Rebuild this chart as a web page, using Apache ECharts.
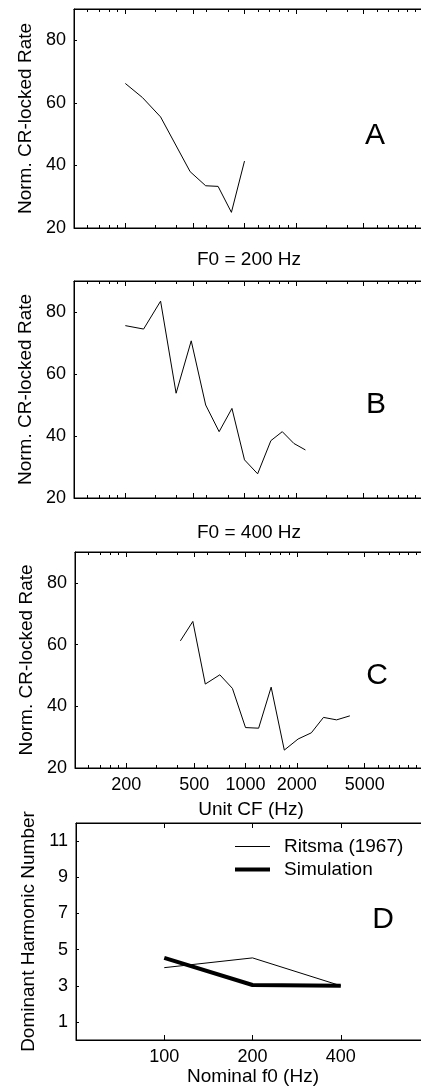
<!DOCTYPE html>
<html>
<head>
<meta charset="utf-8">
<script src="https://cdn.jsdelivr.net/npm/echarts@6/dist/echarts.min.js"></script>
<style>
  html, body { margin: 0; padding: 0; background: #fff; }
  #main { width: 421px; height: 1091px; }
</style>
</head>
<body>
<div id="main"></div>
<script>
// panel A: F0 = 100 Hz
var cfA = [200, 252, 322, 480, 592, 700, 838, 1000];
var rateA = [66.2, 61.7, 55.5, 38.0, 33.5, 33.3, 25.0, 41.4];
// panel B: F0 = 200 Hz
var cfB = [200, 256, 322, 397, 487, 592, 710, 844, 1000, 1194, 1428, 1666, 1948, 2277];
var rateB = [75.6, 74.5, 83.5, 53.8, 70.7, 50.0, 41.4, 48.9, 32.3, 27.8, 38.5, 41.4, 37.6, 35.5];
// panel C: F0 = 400 Hz
var cfC = [415, 491, 581, 707, 838, 1000, 1194, 1414, 1689, 2035, 2433, 2867, 3422, 4093];
var rateC = [61.2, 67.5, 47.2, 50.2, 45.8, 33.1, 32.9, 46.2, 25.8, 29.4, 31.4, 36.4, 35.6, 36.9];
// panel D
var f0 = [100, 200, 400];
var ritsma = [4.0, 4.54, 3.0];
var simulation = [4.54, 3.04, 3.0];

var cfMajor = [200, 500, 1000, 2000, 5000];
var cfMinor = [120, 140, 160, 180, 300, 400, 600, 800, 1200, 1400, 1600, 1800, 3000, 4000, 6000, 7000, 8000, 9000, 10000];
var rateTicks = [20, 40, 60, 80];
var f0Ticks = [100, 200, 400];
var harmTicks = [1, 3, 5, 7, 9, 11];

var FONT = 'Liberation Sans, Arial, sans-serif';
var lg = function (a) { return a.map(function (v) { return Math.log10(v); }); };
var pairs = function (xs, ys) { return xs.map(function (x, i) { return [Math.log10(x), ys[i]]; }); };

// plot boxes run past the right edge of the page, as in the original scan
var GW = 380;
var cfMax = 2 + GW / 170.5;            // 170.5 px per decade
var f0Min = Math.log10(50);
var f0Max = f0Min + GW / 293.2;        // 293.2 px per decade

var grids = [
  { left: 74, top: 9, width: GW, height: 219 },
  { left: 74, top: 281, width: GW, height: 217 },
  { left: 75, top: 552, width: GW, height: 216 },
  { left: 76, top: 823, width: GW, height: 217 }
];
grids.forEach(function (g) {
  g.show = true; g.borderColor = '#000'; g.borderWidth = 1;
  g.backgroundColor = 'transparent'; g.outerBoundsMode = 'none';
});

var xAxes = [], yAxes = [], series = [];

function xAx(gi, pos, min, max, ticks, len, withLine, labels, name, gap, shift) {
  return {
    gridIndex: gi, type: 'value', position: pos, min: min, max: max,
    axisLine: { show: withLine, lineStyle: { color: '#000', width: 1 } },
    axisTick: { show: true, inside: true, length: len, customValues: lg(ticks), lineStyle: { color: '#000' } },
    axisLabel: {
      show: !!labels, customValues: lg(ticks), margin: 8, color: '#000', fontSize: 18, fontFamily: FONT,
      formatter: function (v) { return String(Math.round(Math.pow(10, v))); }
    },
    splitLine: { show: false },
    name: name || '', nameLocation: 'middle', nameGap: gap || 0,
    nameTextStyle: { color: '#000', fontSize: 19, fontFamily: FONT, padding: [0, shift || 0, 0, 0] }
  };
}

function yAx(gi, min, max, ticks, name) {
  return {
    gridIndex: gi, type: 'value', min: min, max: max,
    axisLine: { show: true, lineStyle: { color: '#000', width: 1 } },
    axisTick: { show: true, inside: true, length: 3, customValues: ticks, lineStyle: { color: '#000' } },
    axisLabel: { customValues: ticks, margin: 8, color: '#000', fontSize: 18, fontFamily: FONT },
    splitLine: { show: false },
    name: name, nameLocation: 'middle', nameGap: 38,
    nameTextStyle: { color: '#000', fontSize: 19, fontFamily: FONT }
  };
}

var cfData = [[cfA, rateA], [cfB, rateB], [cfC, rateC]];
cfData.forEach(function (d, gi) {
  var base = xAxes.length;
  var last = gi === 2;
  xAxes.push(xAx(gi, 'bottom', 2, cfMax, cfMajor, 5, true, last, last ? 'Unit CF (Hz)' : '', 32, 28));
  xAxes.push(xAx(gi, 'bottom', 2, cfMax, cfMinor, 3, false, false));
  xAxes.push(xAx(gi, 'top', 2, cfMax, cfMajor, 5, true, false));
  xAxes.push(xAx(gi, 'top', 2, cfMax, cfMinor, 3, false, false));
  yAxes.push(yAx(gi, 20, 90, rateTicks, 'Norm. CR-locked Rate'));
  series.push({
    type: 'line', xAxisIndex: base, yAxisIndex: gi, data: pairs(d[0], d[1]),
    symbol: 'none', silent: true, lineStyle: { color: '#000', width: 1 }
  });
});

var dBase = xAxes.length;
xAxes.push(xAx(3, 'bottom', f0Min, f0Max, f0Ticks, 5, true, true, 'Nominal f0 (Hz)', 21, 26));
xAxes.push(xAx(3, 'top', f0Min, f0Max, f0Ticks, 5, true, false));
yAxes.push(yAx(3, 0, 12, harmTicks, 'Dominant Harmonic Number'));
series.push({
  name: 'Ritsma (1967)', type: 'line', xAxisIndex: dBase, yAxisIndex: 3, data: pairs(f0, ritsma),
  symbol: 'none', silent: true, lineStyle: { color: '#000', width: 1 }, itemStyle: { color: '#000' }
});
series.push({
  name: 'Simulation', type: 'line', xAxisIndex: dBase, yAxisIndex: 3, data: pairs(f0, simulation),
  symbol: 'none', silent: true, lineStyle: { color: '#000', width: 4 }, itemStyle: { color: '#000' }
});

function txt(s, x, y, size) {
  return {
    type: 'text', x: x, y: y, silent: true,
    style: { text: s, fill: '#000', font: size + 'px ' + FONT, textAlign: 'center', textVerticalAlign: 'middle' }
  };
}

var option = {
  animation: false,
  backgroundColor: '#fff',
  textStyle: { fontFamily: FONT },
  grid: grids,
  xAxis: xAxes,
  yAxis: yAxes,
  legend: {
    data: [
      { name: 'Ritsma (1967)', lineStyle: { color: '#000', width: 1 } },
      { name: 'Simulation', lineStyle: { color: '#000', width: 4 } }
    ],
    orient: 'vertical', left: 233, top: 837, padding: 0,
    itemWidth: 35, itemHeight: 12, itemGap: 4,
    itemStyle: { color: 'rgba(0,0,0,0)', borderWidth: 0, opacity: 0 },
    textStyle: { color: '#000', fontSize: 19, fontFamily: FONT, padding: [0, 0, 0, 9] }
  },
  graphic: [
    txt('F0 = 200 Hz', 249, 260, 19),
    txt('F0 = 400 Hz', 249, 533, 19),
    txt('A', 375, 136, 30),
    txt('B', 376, 405, 30),
    txt('C', 377, 676, 30),
    txt('D', 383, 920, 30)
  ],
  series: series
};

var chart = echarts.init(document.getElementById('main'));
chart.setOption(option);
</script>
</body>
</html>
